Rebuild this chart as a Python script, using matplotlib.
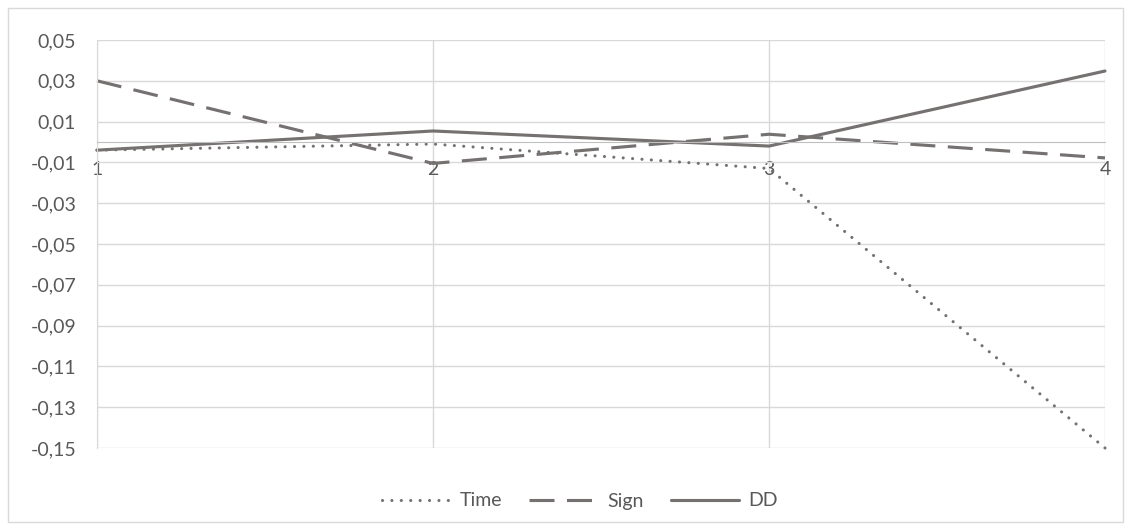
import matplotlib
matplotlib.use("Agg")
import matplotlib.pyplot as plt
from matplotlib.patches import Rectangle

categories = [1, 2, 3, 4]
time_vals = [-0.004, -0.001, -0.013, -0.150]
sign_vals = [0.030, -0.0105, 0.0038, -0.0078]
dd_vals = [-0.004, 0.0054, -0.002, 0.0348]
y_ticks = [0.05, 0.03, 0.01, -0.01, -0.03, -0.05, -0.07, -0.09, -0.11, -0.13, -0.15]

plt.rcParams['font.family'] = ['Lato', 'DejaVu Sans']
line_col = '#767171'
grid_col = '#D9D9D9'
text_col = '#595959'
fs = 14

fig = plt.figure(figsize=(11.31, 5.30), dpi=100)
fig.patches.append(Rectangle((8/1131, 8/530), 1 - 16/1131, 1 - 16/530, transform=fig.transFigure,
                             fill=False, edgecolor=grid_col, linewidth=1))
ax = fig.add_axes([97/1131, (530-448)/530, (1105-97)/1131, (448-40)/530])

ax.plot(categories, time_vals, color=line_col, lw=2.25, linestyle=(0, (0.01, 3.0)),
        dash_capstyle='round', label='Time', clip_on=False)
ax.plot(categories, sign_vals, color=line_col, lw=2.25, linestyle=(0, (8, 4)), label='Sign', clip_on=False)
ax.plot(categories, dd_vals, color=line_col, lw=2.25, solid_capstyle='round', label='DD', clip_on=False)

ax.set_xlim(1, 4)
ax.set_ylim(-0.15, 0.05)
ax.set_yticks(y_ticks)
ax.set_yticklabels([f"{v:.2f}".replace('.', ',') for v in y_ticks])
ax.set_xticks(categories)
ax.set_xticklabels([str(c) for c in categories])
ax.tick_params(axis='both', length=0, labelcolor=text_col, labelsize=fs)
ax.tick_params(axis='y', pad=15)
ax.tick_params(axis='x', pad=14)
ax.grid(True, color=grid_col, linewidth=1)
ax.set_axisbelow(True)
for s in ['top', 'right']:
    ax.spines[s].set_visible(False)
ax.spines['left'].set_color(grid_col)
ax.spines['bottom'].set_position(('data', 0))
ax.spines['bottom'].set_color('#BFBFBF')

leg = fig.legend(loc='center', bbox_to_anchor=(580/1131, (530-501)/530), ncol=3, frameon=False,
                 fontsize=fs, handlelength=3.5, columnspacing=1.4, handletextpad=0.5)
for t in leg.get_texts():
    t.set_color(text_col)

fig.savefig('out.png', dpi=100)
